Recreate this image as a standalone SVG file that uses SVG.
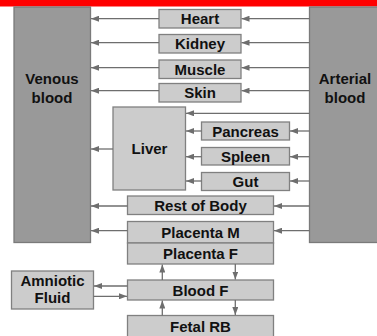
<svg xmlns="http://www.w3.org/2000/svg" width="377" height="336" viewBox="0 0 377 336">
<defs>
<marker id="ah" viewBox="0 0 8 6" refX="8" refY="3" markerWidth="8" markerHeight="6" markerUnits="userSpaceOnUse" orient="auto">
<path d="M0,0 L8,3 L0,6 Z" fill="#6e6e6e"/>
</marker>
<style>
.box{fill:#cccccc;stroke:#808080;stroke-width:1.3}
.big{fill:#999999;stroke:#7a7a7a;stroke-width:1.3}
.t{font-family:"Liberation Sans",Arial,sans-serif;font-weight:bold;font-size:15px;fill:#111;text-anchor:middle}
.c line{stroke:#6e6e6e;stroke-width:1.3;marker-end:url(#ah)}
</style>
</defs>
<rect x="0" y="0" width="377" height="336" fill="#fff"/>
<rect x="0" y="0" width="377" height="6.5" fill="#ff0000"/>
<g id="venous"><rect class="big" x="14" y="7" width="76.5" height="235.5"/><text class="t" x="52" y="84">Venous</text><text class="t" x="52" y="103">blood</text></g>
<g id="arterial"><rect class="big" x="309.5" y="7" width="70" height="235.5"/><text class="t" x="345" y="84">Arterial</text><text class="t" x="345" y="103">blood</text></g>
<g id="heart"><rect class="box" x="159" y="9.5" width="82" height="18.5"/><text class="t" x="200" y="24">Heart</text></g>
<g id="kidney"><rect class="box" x="159" y="34.5" width="82" height="18.5"/><text class="t" x="200" y="49">Kidney</text></g>
<g id="muscle"><rect class="box" x="159" y="60" width="82" height="18.5"/><text class="t" x="200" y="74.5">Muscle</text></g>
<g id="skin"><rect class="box" x="159" y="83.5" width="82" height="18.5"/><text class="t" x="200" y="98">Skin</text></g>
<g id="liver"><rect class="box" x="113" y="107" width="72.5" height="83"/><text class="t" x="149.5" y="154">Liver</text></g>
<g id="pancreas"><rect class="box" x="201.5" y="122" width="88" height="18"/><text class="t" x="245.5" y="136.5">Pancreas</text></g>
<g id="spleen"><rect class="box" x="201.5" y="147.5" width="88" height="17.5"/><text class="t" x="245.5" y="162">Spleen</text></g>
<g id="gut"><rect class="box" x="201.5" y="172.5" width="88" height="18"/><text class="t" x="245.5" y="187">Gut</text></g>
<g id="rest"><rect class="box" x="127.5" y="196" width="146" height="18.5"/><text class="t" x="200.5" y="211">Rest of Body</text></g>
<g id="placentaM"><rect class="box" x="127.5" y="221.5" width="146" height="21.5"/><text class="t" x="200.5" y="237.5">Placenta M</text></g>
<g id="placentaF"><rect class="box" x="127.5" y="243" width="146" height="21"/><text class="t" x="200.5" y="258.5">Placenta F</text></g>
<g id="bloodF"><rect class="box" x="127.5" y="280" width="146" height="20"/><text class="t" x="200.5" y="295.5">Blood F</text></g>
<g id="fetalRB"><rect class="box" x="127.5" y="315.5" width="146" height="25"/><text class="t" x="200.5" y="332">Fetal RB</text></g>
<g id="amniotic"><rect class="box" x="11.5" y="271" width="82" height="38"/><text class="t" x="52.5" y="286">Amniotic</text><text class="t" x="52.5" y="303">Fluid</text></g>
<g id="connectors" class="c">
<line x1="309.5" y1="18.7" x2="241.5" y2="18.7"/>
<line x1="159" y1="18.7" x2="91" y2="18.7"/>
<line x1="309.5" y1="42.7" x2="241.5" y2="42.7"/>
<line x1="159" y1="42.7" x2="91" y2="42.7"/>
<line x1="309.5" y1="67.7" x2="241.5" y2="67.7"/>
<line x1="159" y1="67.7" x2="91" y2="67.7"/>
<line x1="309.5" y1="90.7" x2="241.5" y2="90.7"/>
<line x1="159" y1="90.7" x2="91" y2="90.7"/>
<line x1="309.5" y1="113.3" x2="186" y2="113.3"/>
<line x1="309.5" y1="131" x2="290" y2="131"/>
<line x1="201.5" y1="131" x2="186" y2="131"/>
<line x1="309.5" y1="156.7" x2="290" y2="156.7"/>
<line x1="201.5" y1="156.7" x2="186" y2="156.7"/>
<line x1="309.5" y1="181" x2="290" y2="181"/>
<line x1="201.5" y1="181" x2="186" y2="181"/>
<line x1="113" y1="149" x2="91" y2="149"/>
<line x1="309.5" y1="206" x2="274" y2="206"/>
<line x1="127.5" y1="206" x2="91" y2="206"/>
<line x1="309.5" y1="230.7" x2="274" y2="230.7"/>
<line x1="127.5" y1="230.7" x2="91" y2="230.7"/>
<line x1="235.3" y1="264" x2="235.3" y2="279.5"/>
<line x1="162.3" y1="280" x2="162.3" y2="264.5"/>
<line x1="235.3" y1="300" x2="235.3" y2="315"/>
<line x1="162.3" y1="315.5" x2="162.3" y2="300.5"/>
<line x1="127.5" y1="286" x2="94" y2="286"/>
<line x1="93.5" y1="296.3" x2="127" y2="296.3"/>
</g>
</svg>
